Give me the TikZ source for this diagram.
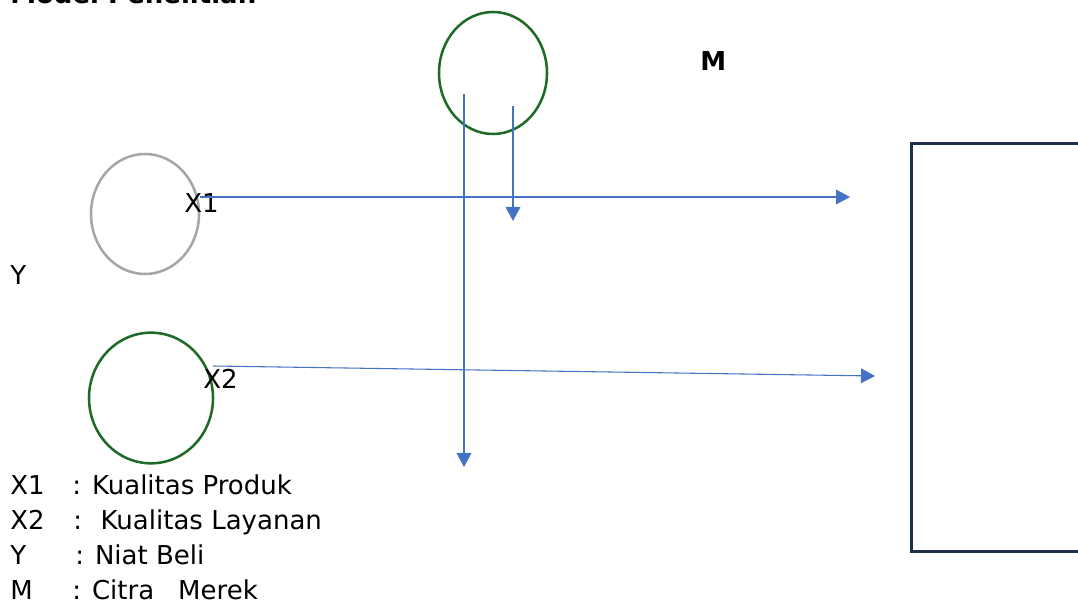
\documentclass[tikz,border=0pt]{standalone}
\usepackage{fontspec}
\setmainfont{DejaVu Sans}
\usetikzlibrary{shapes.geometric,arrows.meta}

\definecolor{linkblue}{HTML}{4472C4}
\definecolor{circgreen}{HTML}{1E6B28}
\definecolor{circgray}{HTML}{A6A6A6}
\definecolor{boxnavy}{HTML}{1F2F4F}

\begin{document}
\begin{tikzpicture}[
  x=0.75pt, y=-0.75pt,
  var/.style={ellipse, draw, line width=1.9pt, inner sep=0pt},
  link/.style={-{Triangle[length=10.5pt, width=11pt]}, linkblue, line width=0.8pt},
  txt/.style={anchor=base west, inner sep=0pt, font=\fontsize{19.5}{23}\selectfont},
]
\clip (0,0) rectangle (1078,605);

% === Title (cut at the top) ===
\node[txt, font=\fontsize{19.5}{23}\selectfont\bfseries] (title) at (10,4) {Model Penelitian};

% === Variables ===
\node[var, draw=circgreen, minimum width=81pt, minimum height=91.5pt] (m) at (493,73) {};
\node[var, draw=circgray, minimum width=81pt, minimum height=90pt] (x1) at (145,214) {};
\node[var, draw=circgreen, minimum width=93pt, minimum height=98pt] (x2) at (151,398) {};
\node[txt, font=\fontsize{19.5}{23}\selectfont\bfseries] (mlab) at (700,71) {M};
\node[txt] (x1lab) at (184,213) {X1};
\node[txt] (x2lab) at (203,389) {X2};
\node[txt] (ylab) at (10,285) {Y};

% === Dependent box (cut at the right) ===
\node[draw=boxnavy, line width=2.2pt, minimum width=150pt, minimum height=306pt, anchor=north west, inner sep=0pt] (y) at (910,142) {};

% === Paths ===
\coordinate (x1s) at (200,197);
\coordinate (x1e) at (850,197);
\coordinate (x2s) at (213,366);
\coordinate (x2e) at (875,376);
\coordinate (m1s) at (464,94);
\coordinate (m1e) at (464,467);
\coordinate (m2s) at (513,106);
\coordinate (m2e) at (513,221);
\draw[link] (x1s) -- (x1e);
\draw[link] (x2s) -- (x2e);
\draw[link] (m1s) -- (m1e);
\draw[link] (m2s) -- (m2e);

% === Legend ===
\node[txt] (kx1) at (10,495) {X1};
\node[txt] (dx1) at (72,495) {: Kualitas Produk};
\node[txt] (kx2) at (10,530) {X2};
\node[txt] (dx2) at (73,530) {:\hspace{14pt}Kualitas Layanan};
\node[txt] (ky) at (10,565) {Y};
\node[txt] (dy) at (75,565) {: Niat Beli};
\node[txt] (km) at (10,599) {M};
\node[txt] (dm) at (72,599) {: Citra\hspace{18pt}Merek};
\end{tikzpicture}
\end{document}
